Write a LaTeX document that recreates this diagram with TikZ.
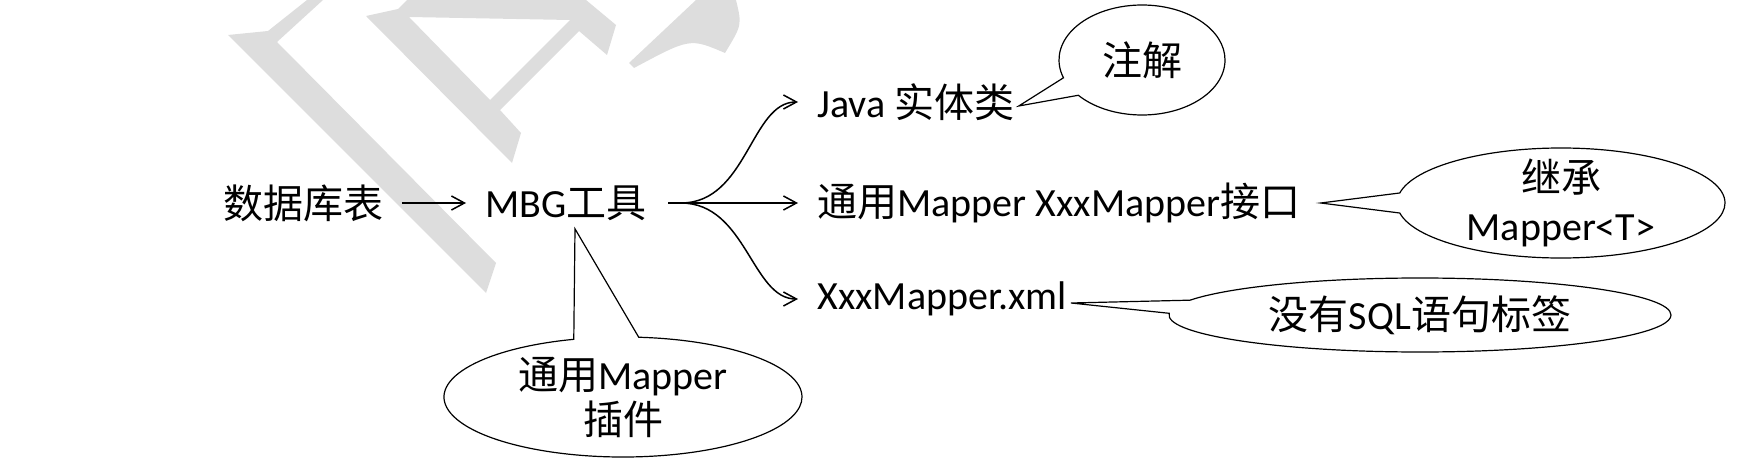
\documentclass[tikz,border=0pt]{standalone}
\usepackage{fontspec}
\setmainfont{Carlito}
\newfontfamily\cjk{Noto Sans CJK SC}
\newcommand{\zh}[1]{{\cjk #1}}
\usetikzlibrary{shapes.callouts,arrows.meta}
\definecolor{wm}{RGB}{221,221,221}

\begin{document}
\begin{tikzpicture}[x=0.5pt,y=-0.5pt]
        \tikzstyle{every node}=[font=\fontsize{20pt}{24pt}\selectfont]

        \edef\arcwidth{21}
        \tikzstyle{lbl}=[inner sep=0pt,anchor=west]
        \tikzstyle{line}=[draw,line width=0.75pt]
        \tikzstyle{arr}=[line,-{Straight Barb[length=6.5pt,width=7pt]},shorten >=9.5pt]
        \tikzstyle{note}=[draw,line width=0.6pt,fill=white,ellipse callout,inner sep=0pt,align=center,callout pointer arc=\arcwidth]

        \useasboundingbox (0,0) rectangle (1750,476);

        %watermark in the back
        \fill[wm] (228,35) -- (268,31) -- (307,0) -- (323,0) -- (277,42) -- (496,263) -- (486,293) -- cycle;
        \fill[wm,even odd rule] (366,16) -- (398,9) -- (407,0) -- (586,0) -- (616,25) -- (607,55) -- (579,31)
            -- (500,110) -- (521,133) -- (512,163) -- cycle
            (409,17) -- (570,20) -- (490,100) -- cycle;
        \fill[wm] (629,63) -- (696,0) -- (736,0) .. controls (742,25) .. (725,53)
            .. controls (690,38) .. (634,68) -- cycle;

        %the flow
        \node[lbl] (tab) at (223,203) {\zh{数据库表}};
        \node[lbl] (mbg) at (485,203) {MBG\zh{工具}};
        \node[lbl] (java) at (817,102) {Java \zh{实体类}};
        \node[lbl] (iface) at (817,203) {\zh{通用}Mapper XxxMapper\zh{接口}};
        \node[lbl] (xml) at (817,299) {XxxMapper.xml};

        \coordinate (fork) at (681,203);
        \draw[arr,shorten <=9pt] (tab.east) -- (mbg.west);
        \draw[line,shorten <=10.5pt] (mbg.east) -- (fork);
        \draw[arr] (fork) -- (iface.west);
        \foreach \t in {java,xml}
            \draw[arr] (fork) to[out=0,in=180] (\t.west);

        %callouts
        \node[note,minimum width=83pt,minimum height=55pt,
              callout absolute pointer={([xshift=2pt,yshift=-2pt]java.east)}] (anno) at (1142,60) {\zh{注解}};
        \node[note,minimum width=164pt,minimum height=55pt,inner ysep=-6pt,
              callout absolute pointer={([xshift=10pt]iface.east)}] (ext) at (1561,203) {\zh{继承}\\Mapper<T>};
        \node[note,minimum width=251pt,minimum height=37pt,
              callout absolute pointer={([xshift=2pt,yshift=-2pt]xml.east)}] (nosql) at (1420,315) {\zh{没有}SQL\zh{语句标签}};
        \node[note,minimum width=179pt,minimum height=60pt,inner ysep=-4pt,
              callout absolute pointer={([xshift=4.5pt,yshift=-4pt]mbg.south)}] (plug) at (623,397) {\zh{通用}Mapper\\[-1.5pt]\zh{插件}};
\end{tikzpicture}
\end{document}
